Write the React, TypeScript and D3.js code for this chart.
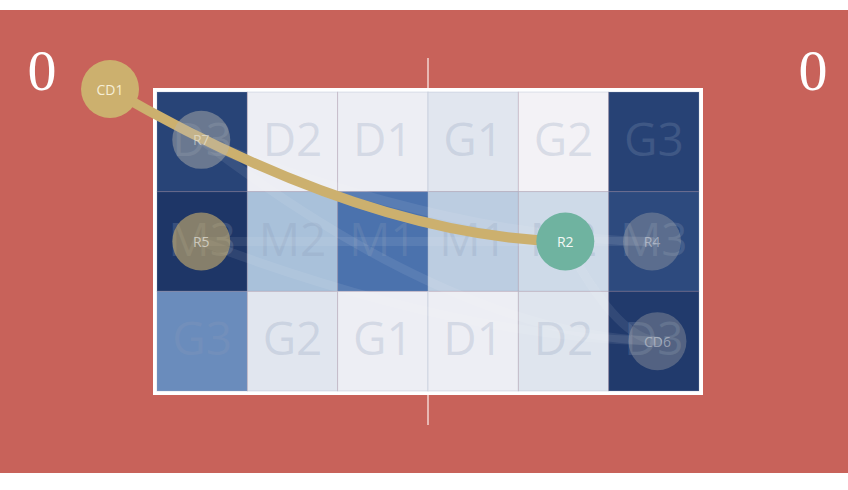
import * as d3 from "d3";

// zone labels, rows top to bottom
const zoneRows = [
  ["D3", "D2", "D1", "G1", "G2", "G3"],
  ["M3", "M2", "M1", "M1", "M2", "M3"],
  ["G3", "G2", "G1", "D1", "D2", "D3"],
];

// zone intensity 0..1
const zoneValues = [
  [0.93, 0.03, 0.03, 0.1, 0.0, 0.94],
  [1.0, 0.4, 0.7, 0.3, 0.2, 0.9],
  [0.6, 0.1, 0.03, 0.03, 0.11, 0.98],
];

// players in zone units (column, row)
const players = [
  { id: "CD1", x: -0.52, y: -0.03, kind: "gold" },
  { id: "R7", x: 0.49, y: 0.48, kind: "grey" },
  { id: "R5", x: 0.49, y: 1.5, kind: "goldFaded" },
  { id: "R2", x: 4.52, y: 1.5, kind: "teal" },
  { id: "R4", x: 5.48, y: 1.5, kind: "greyFaded" },
  { id: "CD6", x: 5.54, y: 2.5, kind: "greyFaded" },
];

const mainPass = ["CD1", "R2"];
const otherPasses = [
  ["R7", "R4"],
  ["R5", "R4"],
  ["R5", "CD6"],
  ["R7", "CD6"],
  ["R2", "CD6"],
  ["R7", "R2"],
];

const scores = ["0", "0"];

const W = 848;
const H = 490;

const circleStyle: Record<string, { fill: string; opacity: number; text: string; textOpacity: number }> = {
  gold: { fill: "#ccb06e", opacity: 1, text: "#f6eed6", textOpacity: 1 },
  teal: { fill: "#6fb3a0", opacity: 1, text: "#f2f8f5", textOpacity: 1 },
  goldFaded: { fill: "#ccb06e", opacity: 0.6, text: "#ffffff", textOpacity: 0.55 },
  grey: { fill: "#bab7af", opacity: 0.45, text: "#ffffff", textOpacity: 0.45 },
  greyFaded: { fill: "#bab7af", opacity: 0.33, text: "#ffffff", textOpacity: 0.4 },
};

export default function App() {
  const x = d3.scaleLinear().domain([0, 6]).range([157, 699]);
  const y = d3.scaleLinear().domain([0, 3]).range([92, 391]);
  const color = d3
    .scaleLinear<string>()
    .domain([0, 0.4, 0.7, 1])
    .range(["#f3f2f6", "#a9c1da", "#4b72ad", "#1e3667"])
    .interpolate(d3.interpolateRgb);

  const byId = new Map(players.map((p) => [p.id, p]));

  const passPath = (a: string, b: string) => {
    const p = byId.get(a)!;
    const q = byId.get(b)!;
    const x0 = x(p.x), y0 = y(p.y), x1 = x(q.x), y1 = y(q.y);
    const path = d3.path();
    path.moveTo(x0, y0);
    path.quadraticCurveTo(x0 + 0.56 * (x1 - x0), y1 - 0.03 * (y1 - y0), x1, y1);
    return path.toString();
  };

  const cw = x(1) - x(0);
  const ch = y(1) - y(0);

  return (
    <svg width={W} height={H} style={{ position: "absolute", left: 0, top: 0, background: "#ffffff" }}>
      <rect x={0} y={10} width={W} height={463} fill="#c8625a" />
      <line x1={x(3)} x2={x(3)} y1={58} y2={425} stroke="#f3d6d2" strokeWidth={1.5} />
      {scores.map((s, i) => (
        <text
          key={i}
          x={i === 0 ? 42 : 813}
          y={90}
          textAnchor="middle"
          fontFamily="'Liberation Serif', serif"
          fontSize={58}
          fill="#ffffff"
        >
          {s}
        </text>
      ))}
      <rect x={x(0) - 2} y={y(0) - 2} width={x(6) - x(0) + 4} height={y(3) - y(0) + 4} fill="none" stroke="#ffffff" strokeWidth={4} />
      {zoneValues.map((row, r) =>
        row.map((v, c) => (
          <rect
            key={`c${r}-${c}`}
            x={x(c)}
            y={y(r)}
            width={cw}
            height={ch}
            fill={color(v)}
            stroke="#9aa6bf"
            strokeOpacity={0.3}
            strokeWidth={1}
          />
        ))
      )}
      {zoneRows.map((row, r) =>
        row.map((label, c) => (
          <text
            key={`t${r}-${c}`}
            x={x(c + 0.5)}
            y={y(r + 0.5) + 14}
            textAnchor="middle"
            fontFamily="'Open Sans', sans-serif"
            fontSize={46}
            fill="#8a9ab8"
            fillOpacity={0.25}
          >
            {label}
          </text>
        ))
      )}
      {otherPasses.map(([a, b], i) => (
        <path
          key={`p${i}`}
          d={passPath(a, b)}
          fill="none"
          stroke="#ffffff"
          strokeOpacity={0.08}
          strokeWidth={9}
          strokeLinecap="round"
        />
      ))}
      <path d={passPath(mainPass[0], mainPass[1])} fill="none" stroke="#ccb06e" strokeWidth={10} />
      {players.map((p) => {
        const st = circleStyle[p.kind];
        return (
          <g key={p.id} transform={`translate(${x(p.x)},${y(p.y)})`}>
            <circle r={29} fill={st.fill} fillOpacity={st.opacity} />
            <text
              textAnchor="middle"
              dominantBaseline="central"
              fontFamily="'Open Sans', sans-serif"
              fontSize={14}
              fill={st.text}
              fillOpacity={st.textOpacity}
            >
              {p.id}
            </text>
          </g>
        );
      })}
    </svg>
  );
}
